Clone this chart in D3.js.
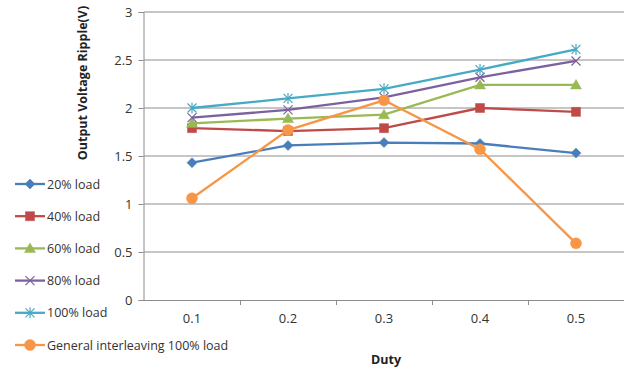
<!DOCTYPE html>
<html>
<head>
<meta charset="utf-8">
<script src="https://cdn.jsdelivr.net/npm/d3@7"></script>
<style>
body { margin: 0; background: #fff; }
text { font-family: "Open Sans", "Liberation Sans", sans-serif; }
</style>
</head>
<body>
<div id="chart"></div>
<script>
var w = 624;
var h = 373;

var duty = ["0.1", "0.2", "0.3", "0.4", "0.5"];
var yTicks = [0, 0.5, 1, 1.5, 2, 2.5, 3];
var seriesNames = ["20% load", "40% load", "60% load", "80% load", "100% load", "General interleaving 100% load"];
var load20 = [1.43, 1.61, 1.64, 1.63, 1.53];
var load40 = [1.79, 1.76, 1.79, 2.0, 1.96];
var load60 = [1.84, 1.89, 1.93, 2.24, 2.24];
var load80 = [1.90, 1.98, 2.11, 2.32, 2.49];
var load100 = [2.0, 2.10, 2.20, 2.40, 2.61];
var general100 = [1.06, 1.77, 2.08, 1.57, 0.59];

var colors = ["#4A7EBB", "#BE4B48", "#98B954", "#7D60A0", "#46AAC5", "#F79646"];
var markers = ["diamond", "square", "triangle", "x", "star", "circle"];
var allSeries = [load20, load40, load60, load80, load100, general100];

var svg = d3.select("#chart")
    .append("svg")
    .attr("width", w)
    .attr("height", h);

var xScale = d3.scaleBand()
    .domain(duty)
    .range([144, 624]);

var yScale = d3.scaleLinear()
    .domain([0, 3])
    .range([300, 12]);

// gridlines
svg.append("g")
    .selectAll("line")
    .data(yTicks.slice(1))
    .enter().append("line")
    .attr("x1", 144)
    .attr("x2", 624)
    .attr("y1", function(d) { return yScale(d); })
    .attr("y2", function(d) { return yScale(d); })
    .attr("stroke", "#8c8c8c")
    .attr("stroke-width", 1);

var yAxis = d3.axisLeft(yScale)
    .tickValues(yTicks)
    .tickFormat(function(d) { return d; })
    .tickSize(5)
    .tickPadding(6);

var gy = svg.append("g")
    .attr("transform", "translate(143.5,0)")
    .call(yAxis);

var xAxis = d3.axisBottom(xScale)
    .tickSize(0)
    .tickPadding(13);

var gx = svg.append("g")
    .attr("transform", "translate(0,300.5)")
    .call(xAxis);

// boundary ticks between categories
svg.append("g")
    .selectAll("line")
    .data(duty.slice(1))
    .enter().append("line")
    .attr("x1", function(d) { return Math.round(xScale(d)) + 0.5; })
    .attr("x2", function(d) { return Math.round(xScale(d)) + 0.5; })
    .attr("y1", 300)
    .attr("y2", 305)
    .attr("stroke", "#8c8c8c");

[gx, gy].forEach(function(g) {
    g.selectAll("path, line").attr("stroke", "#8c8c8c");
    g.selectAll("text")
        .attr("fill", "#333")
        .style("font-size", "13px");
});
gx.select(".domain").attr("d", "M144,0H624");

var line = d3.line()
    .x(function(d, i) { return xScale(duty[i]) + xScale.bandwidth() / 2; })
    .y(function(d) { return yScale(d); });

function markerPath(type) {
    if (type == "diamond") return "M0,-5L5,0L0,5L-5,0Z";
    if (type == "square") return "M-4.5,-4.5H4.5V4.5H-4.5Z";
    if (type == "triangle") return "M0,-5.5L5.5,4L-5.5,4Z";
    if (type == "x") return "M-4.5,-4.5L4.5,4.5M-4.5,4.5L4.5,-4.5";
    if (type == "star") return "M-4.5,-4.5L4.5,4.5M-4.5,4.5L4.5,-4.5M0,-5.5V5.5";
    return d3.symbol().type(d3.symbolCircle).size(95)();
}

function drawMarker(g, type, color) {
    var open = (type == "x" || type == "star");
    g.append("path")
        .attr("d", markerPath(type))
        .attr("fill", open ? "none" : color)
        .attr("stroke", color)
        .attr("stroke-width", open ? 1.2 : 0.5);
}

allSeries.forEach(function(vals, s) {
    var g = svg.append("g");
    g.append("path")
        .datum(vals)
        .attr("fill", "none")
        .attr("stroke", colors[s])
        .attr("stroke-width", 2.3)
        .attr("d", line);
    vals.forEach(function(v, i) {
        var m = g.append("g")
            .attr("transform", "translate(" + (xScale(duty[i]) + xScale.bandwidth() / 2) + "," + yScale(v) + ")");
        drawMarker(m, markers[s], colors[s]);
    });
});

// legend
var legend = svg.append("g");
seriesNames.forEach(function(name, s) {
    var y = 184 + s * 32.2;
    var g = legend.append("g").attr("transform", "translate(0," + y + ")");
    g.append("line")
        .attr("x1", 15).attr("x2", 45)
        .attr("y1", 0).attr("y2", 0)
        .attr("stroke", colors[s])
        .attr("stroke-width", 2.3);
    var m = g.append("g").attr("transform", "translate(30,0)");
    drawMarker(m, markers[s], colors[s]);
    g.append("text")
        .attr("x", 47)
        .attr("y", 4.5)
        .attr("fill", "#333")
        .style("font-size", "12.5px")
        .text(name);
});

// axis titles
svg.append("text")
    .attr("transform", "translate(87,83) rotate(-90)")
    .attr("text-anchor", "middle")
    .style("font-size", "12.5px")
    .style("font-weight", "bold")
    .attr("fill", "#222")
    .text("Output Voltage Ripple(V)");

svg.append("text")
    .attr("x", 386)
    .attr("y", 364)
    .attr("text-anchor", "middle")
    .style("font-size", "12.5px")
    .style("font-weight", "bold")
    .attr("fill", "#222")
    .text("Duty");
</script>
</body>
</html>
